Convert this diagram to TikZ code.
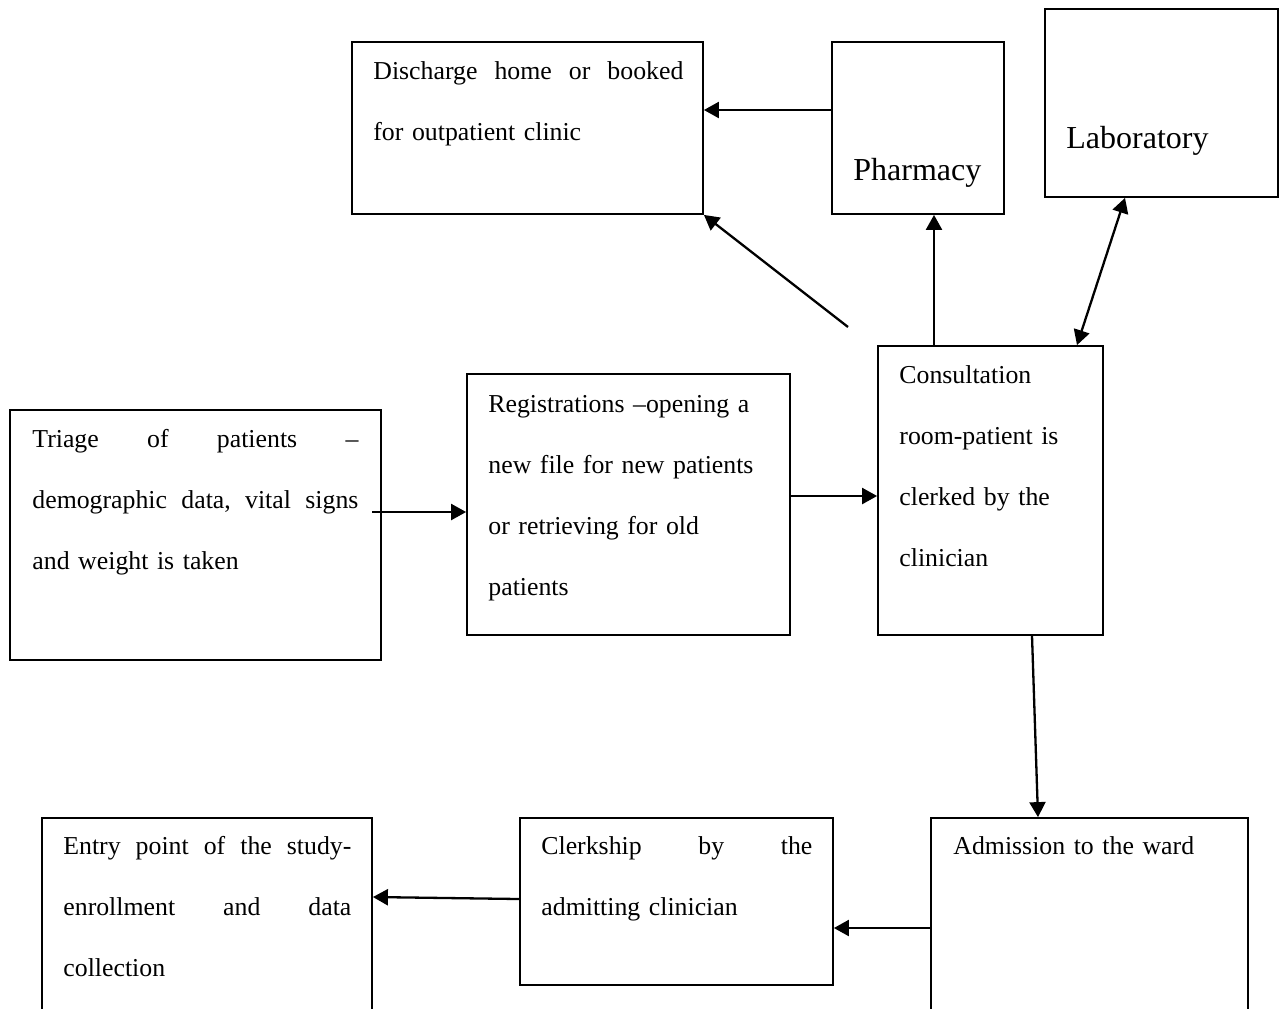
\documentclass[tikz,border=0pt]{standalone}
\usepackage{fontspec}
\setmainfont{Liberation Serif}
\usepackage{tikz}
\usetikzlibrary{arrows.meta,fit}
\setlength\parindent{0pt}
\newcommand{\jline}[2]{\leavevmode\hbox to #1{#2}}
\tikzset{
  box/.style={draw, line width=0.9pt, inner sep=0pt},
  txt/.style={anchor=north west, inner sep=0pt, align=left, font=\fontsize{12.9}{30.5}\selectfont},
  big/.style={anchor=base west, inner sep=0pt, font=\fontsize{16}{19}\selectfont},
  flow/.style={-{Triangle[length=7.5pt,width=8pt]}, line width=1.15pt}
}

\begin{document}
\begin{tikzpicture}[x=0.5pt,y=-0.5pt] %patient flow
\useasboundingbox (0,0) rectangle (1283,1008);
% boxes
\node[box, fit={(352,42) (703,214)}] (discharge) {};
\node[box, fit={(832,42) (1004,214)}] (pharmacy) {};
\node[box, fit={(1045,9) (1278,197)}] (lab) {};
\node[box, fit={(10,410) (381,660)}] (triage) {};
\node[box, fit={(467,374) (790,635)}] (registration) {};
\node[box, fit={(878,346) (1103,635)}] (consult) {};
\node[box, fit={(931,818) (1248,1020)}] (admission) {};
\node[box, fit={(520,818) (833,985)}] (clerkship) {};
\node[box, fit={(42,818) (372,1020)}] (entry) {};
% texts
\node[txt, text width=155pt] (dischargetext) at (373,61) {\jline{155pt}{Discharge\hfill home\hfill or\hfill booked}\\ for outpatient clinic};
\node[big] (pharmacytext) at (853,180) {Pharmacy};
\node[big] (labtext) at (1066,148) {Laboratory};
\node[txt, text width=163pt] (triagetext) at (32,429) {\jline{163pt}{Triage\hfill of\hfill patients\hfill –}\\ \jline{163pt}{demographic\hfill data,\hfill vital\hfill signs}\\ and weight is taken};
\node[txt, text width=140pt] (registrationtext) at (488,395) {Registrations –opening a\\ new file for new patients\\ or retrieving for old\\ patients};
\node[txt, text width=95pt] (consulttext) at (899,365) {Consultation\\ room-patient is\\ clerked by the\\ clinician};
\node[txt, text width=140pt] (admissiontext) at (953,836) {Admission to the ward};
\node[txt, text width=135.5pt] (clerkshiptext) at (541,836) {\jline{135.5pt}{Clerkship\hfill by\hfill the}\\ admitting clinician};
\node[txt, text width=144pt] (entrytext) at (63,836) {\jline{144pt}{Entry\hfill point\hfill of\hfill the\hfill study-}\\ \jline{144pt}{enrollment\hfill and\hfill data}\\ collection};
% arrows
\coordinate (dischargefrom) at (848,327);
\coordinate (triagefrom) at (372,512);
\draw[flow] (pharmacy.west |- 0,110) -- (discharge.east |- 0,110);
\draw[flow] (dischargefrom) -- (discharge.south east);
\draw[flow] (consult.north -| 934,0) -- (pharmacy.south -| 934,0);
\draw[{Triangle[length=7.5pt,width=8pt]}-{Triangle[length=7.5pt,width=8pt]}, line width=1.15pt] (consult.north -| 1077,0) -- (lab.south -| 1125,0);
\draw[flow] (triagefrom) -- (registration.west |- 0,512);
\draw[flow] (registration.east |- 0,496) -- (consult.west |- 0,496);
\draw[flow] (consult.south -| 1032,0) -- (admission.north -| 1038,0);
\draw[flow] (admission.west |- 0,928) -- (clerkship.east |- 0,928);
\draw[flow] (clerkship.west |- 0,899) -- (entry.east |- 0,897);
\end{tikzpicture}
\end{document}
